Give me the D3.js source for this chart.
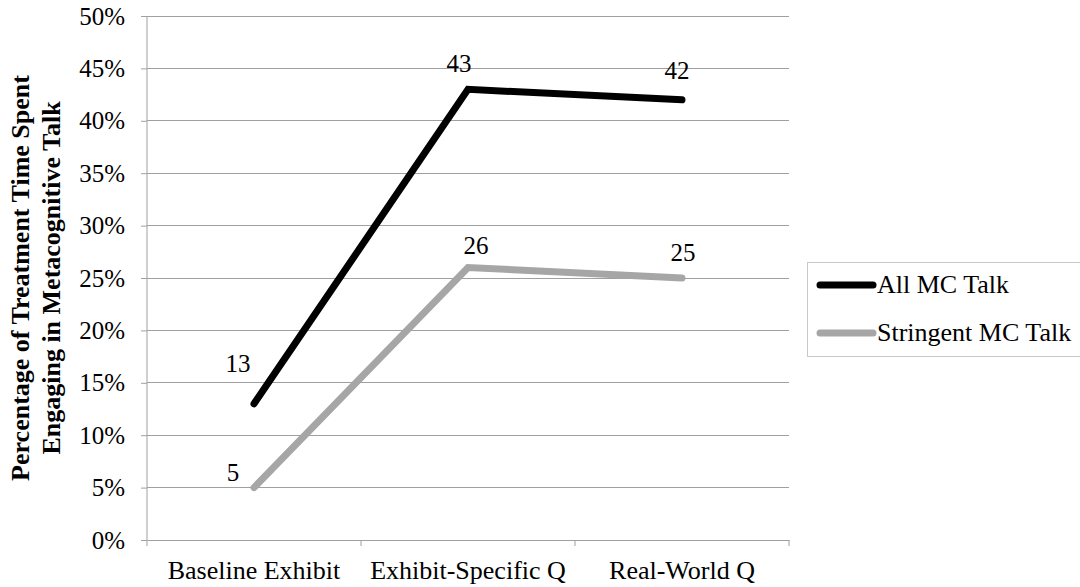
<!DOCTYPE html>
<html><head><meta charset="utf-8">
<script src="https://cdn.jsdelivr.net/npm/d3@7"></script>
<style>body{margin:0;background:#fff}svg{display:block}</style>
</head><body>
<script>
const categories = ["Baseline Exhibit", "Exhibit-Specific Q", "Real-World Q"];
const seriesNames = ["All MC Talk", "Stringent MC Talk"];
const allMC = [13, 43, 42];
const stringentMC = [5, 26, 25];
const yTicks = [0, 5, 10, 15, 20, 25, 30, 35, 40, 45, 50];
const yTitle = ["Percentage of Treatment Time Spent", "Engaging in Metacognitive Talk"];

const FONT = "Liberation Serif";
const FS = 26;
const W = 1080, H = 587;
const svg = d3.select("body").append("svg").attr("width", W).attr("height", H);
const x = d3.scaleBand().domain(categories).range([147, 789]);
const y = d3.scaleLinear().domain([0, 50]).range([540, 16]);
const gridC = "#a0a0a0";

function styleText(sel, size, weight) {
  sel.attr("font-family", null).attr("font-size", null)
    .style("font-family", FONT).style("font-size", size + "px")
    .style("font-weight", weight || "normal").attr("fill", "#000");
}

svg.append("g").selectAll("line").data(yTicks.filter(d => d > 0)).join("line")
  .attr("x1", 147).attr("x2", 789).attr("y1", d => y(d)).attr("y2", d => y(d))
  .attr("stroke", gridC).attr("stroke-width", 1).attr("shape-rendering", "crispEdges");

const ya = svg.append("g").attr("transform", "translate(147,0)")
  .call(d3.axisLeft(y).tickValues(yTicks).tickFormat(d => d + "%").tickSize(6).tickPadding(16));
ya.attr("font-family", null).attr("font-size", null);
ya.select(".domain").attr("stroke", gridC).attr("d", "M0,16V540");
ya.selectAll(".tick line").attr("stroke", gridC);
styleText(ya.selectAll("text"), FS - 1);

const xa = svg.append("g").attr("transform", "translate(0,540)")
  .call(d3.axisBottom(x).tickSize(0).tickPadding(21));
xa.attr("font-family", null).attr("font-size", null);
xa.select(".domain").attr("stroke", gridC);
styleText(xa.selectAll("text"), FS);
svg.append("g").selectAll("line").data(categories.concat(["end"])).join("line")
  .attr("x1", (d, i) => 147 + i * x.step()).attr("x2", (d, i) => 147 + i * x.step())
  .attr("y1", 540).attr("y2", 546).attr("stroke", gridC);

const yt = svg.append("text").attr("transform", "translate(0,278) rotate(-90)")
  .attr("text-anchor", "middle");
styleText(yt, FS, "bold");
yTitle.forEach((t, i) => yt.append("tspan").attr("x", 0).attr("y", 29 + i * 31).text(t));

const series = [
  { name: seriesNames[0], values: allMC, color: "#000000", lab: [[-16, -32], [-9, -17], [-5, -21]] },
  { name: seriesNames[1], values: stringentMC, color: "#a6a6a6", lab: [[-21, -7], [8, -14], [1, -17]] }
];
const cx = c => x(c) + x.bandwidth() / 2;
const line = d3.line().x((d, i) => cx(categories[i])).y(d => y(d));
series.slice().reverse().forEach(s => {
  svg.append("path").attr("d", line(s.values)).attr("fill", "none")
    .attr("stroke", s.color).attr("stroke-width", 7)
    .attr("stroke-linecap", "round").attr("stroke-linejoin", "miter");
});
series.forEach(s => {
  const t = svg.append("g").selectAll("text").data(s.values).join("text")
    .attr("x", (d, i) => cx(categories[i]) + s.lab[i][0])
    .attr("y", (d, i) => y(d) + s.lab[i][1])
    .attr("text-anchor", "middle").text(d => d);
  styleText(t, FS - 1);
});

const lg = svg.append("g");
lg.append("rect").attr("x", 807.5).attr("y", 262.5).attr("width", 290).attr("height", 94)
  .attr("fill", "#fff").attr("stroke", "#c8c8c8");
series.forEach((s, i) => {
  const yy = 285 + i * 48;
  lg.append("line").attr("x1", 820).attr("x2", 873).attr("y1", yy).attr("y2", yy)
    .attr("stroke", s.color).attr("stroke-width", 7).attr("stroke-linecap", "round");
  const t = lg.append("text").attr("x", 877).attr("y", yy + 8).text(s.name);
  styleText(t, FS);
});
</script>
</body></html>
